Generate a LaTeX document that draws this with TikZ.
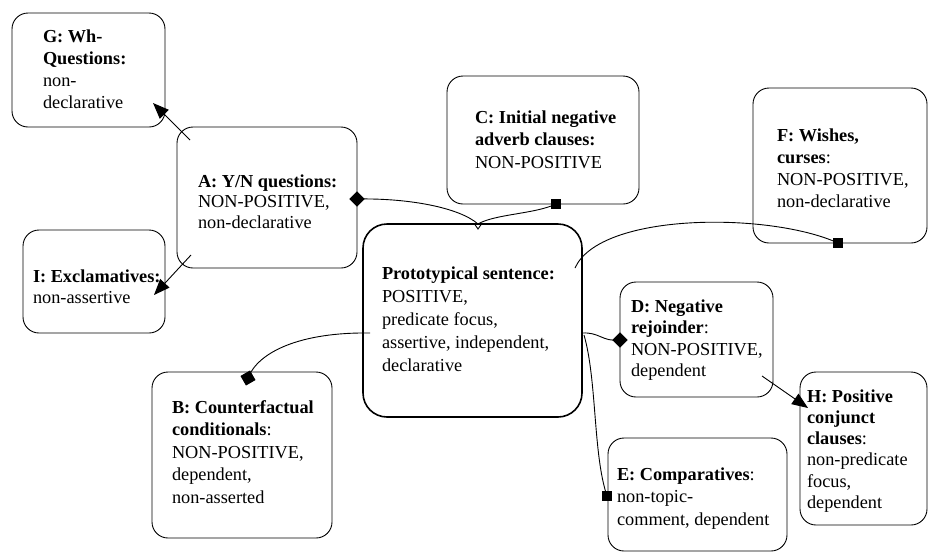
\documentclass[tikz,border=0pt]{standalone}
\usepackage{fontspec}
\setmainfont{Liberation Serif}
\usetikzlibrary{arrows.meta,shapes.geometric}
\newcommand\rw[1]{\hbox{#1}}
\newcommand\blk[2]{\vtop{\fontsize{18.3}{#1}\selectfont #2}}
\begin{document}
\begin{tikzpicture}[x=1pt,y=-1pt,
  box/.style={draw, rounded corners=16pt, inner sep=0pt, outer sep=0pt, line width=0.9pt},
  pbox/.style={box, line width=1.6pt, rounded corners=24pt},
  txt/.style={anchor=base west, inner sep=0pt, outer sep=0pt},
  conn/.style={line width=0.9pt},
  arr/.style={conn, -{Triangle[length=16pt,width=12.5pt]}},
  diam/.style={diamond, fill=black, inner sep=0pt, minimum width=15pt, minimum height=15pt},
  sq/.style={rectangle, fill=black, inner sep=0pt, minimum size=10.5pt}]
\useasboundingbox (0,0) rectangle (928,552);
% boxes
\node[box, minimum width=153pt, minimum height=114pt] (G) at (88.5,70) {};
\node[box, minimum width=180pt, minimum height=141pt] (A) at (267,197.5) {};
\node[box, minimum width=142pt, minimum height=103pt] (I) at (94,281.5) {};
\node[box, minimum width=192pt, minimum height=128pt] (C) at (543,140) {};
\node[pbox, minimum width=219pt, minimum height=193pt] (P) at (472.5,320.5) {};
\node[box, minimum width=174pt, minimum height=155pt] (F) at (840,165.5) {};
\node[box, minimum width=153pt, minimum height=115pt] (D) at (696.5,339.5) {};
\node[box, minimum width=127pt, minimum height=153pt] (H) at (863.5,448.5) {};
\node[box, minimum width=179pt, minimum height=113pt] (E) at (697.5,494.5) {};
\node[box, minimum width=180pt, minimum height=166pt] (B) at (242,455) {};
% texts
\node[txt] (Gt) at (43,42) {\blk{22pt}{\rw{\textbf{G: Wh-}}\rw{\textbf{Questions:}}\rw{non-}\rw{declarative}}};
\node[txt] (At) at (198,187) {\blk{20.5pt}{\rw{\textbf{A: Y/N questions:}}\rw{NON-POSITIVE,}\rw{non-declarative}}};
\node[txt] (It) at (33,282) {\blk{21pt}{\rw{\textbf{I: Exclamatives:}}\rw{non-assertive}}};
\node[txt] (Ct) at (475,123) {\blk{22.5pt}{\rw{\textbf{C: Initial negative}}\rw{\textbf{adverb clauses:}}\rw{NON-POSITIVE}}};
\node[txt] (Pt) at (382,279) {\blk{23pt}{\rw{\textbf{Prototypical sentence:}}\rw{POSITIVE,}\rw{predicate focus,}\rw{assertive, independent,}\rw{declarative}}};
\node[txt] (Ft) at (777,141) {\blk{22pt}{\rw{\textbf{F: Wishes,}}\rw{\textbf{curses}:}\rw{NON-POSITIVE,}\rw{non-declarative}}};
\node[txt] (Dt) at (631,312) {\blk{21.5pt}{\rw{\textbf{D: Negative}}\rw{\textbf{rejoinder}:}\rw{NON-POSITIVE,}\rw{dependent}}};
\node[txt] (Ht) at (807,402) {\blk{21.3pt}{\rw{\textbf{H: Positive}}\rw{\textbf{conjunct}}\rw{\textbf{clauses}:}\rw{non-predicate}\rw{focus,}\rw{dependent}}};
\node[txt] (Et) at (617,480) {\blk{22.5pt}{\rw{\textbf{E: Comparatives}:}\rw{non-topic-}\rw{comment, dependent}}};
\node[txt] (Bt) at (172,413) {\blk{22.5pt}{\rw{\textbf{B: Counterfactual}}\rw{\textbf{conditionals}:}\rw{NON-POSITIVE,}\rw{dependent,}\rw{non-asserted}}};
% end markers
\node[diam] (dA) at (357,199) {};
\node[diam] (dD) at (620,340) {};
\node[sq] (sC) at (556,204) {};
\node[sq] (sF) at (838,243) {};
\node[sq, rotate=30] (sB) at (248,378) {};
\node[sq] (sE) at (607,496) {};
% attachment points
\coordinate (AG) at (190,140);
\coordinate (Gtip) at (153,103);
\coordinate (AI) at (191,255);
\coordinate (Itip) at (154,295);
\coordinate (DH) at (762,376);
\coordinate (Htip) at (808,408);
\coordinate (PT) at (478,224);
\coordinate (PF) at (575,268);
\coordinate (PB) at (370,333);
\coordinate (PD) at (582,333);
\coordinate (PE) at (584,335);
% connectors
\draw[conn] (dA.center) .. controls (410,198) and (460,208) .. (PT);
\draw[conn] (sC.center) .. controls (535,214) and (495,214) .. (PT);
\draw[conn] (PT) ++(-3.5,0) -- ++(3.5,5) -- ++(3.5,-5);
\draw[conn] (PF) .. controls (600,212) and (770,212) .. (sF.center);
\draw[conn] (PB) .. controls (300,332) and (258,352) .. (sB.center);
\draw[conn] (PD) .. controls (600,332) and (602,342) .. (dD.center);
\draw[conn] (PE) .. controls (597,380) and (593,455) .. (sE.center);
\draw[arr] (AG) -- (Gtip);
\draw[arr] (AI) -- (Itip);
\draw[arr] (DH) -- (Htip);
% redraw markers on top
\fill (dA.north) -- (dA.east) -- (dA.south) -- (dA.west) -- cycle;
\fill (dD.north) -- (dD.east) -- (dD.south) -- (dD.west) -- cycle;
\fill (sC.north west) -- (sC.north east) -- (sC.south east) -- (sC.south west) -- cycle;
\fill (sF.north west) -- (sF.north east) -- (sF.south east) -- (sF.south west) -- cycle;
\fill (sB.north west) -- (sB.north east) -- (sB.south east) -- (sB.south west) -- cycle;
\fill (sE.north west) -- (sE.north east) -- (sE.south east) -- (sE.south west) -- cycle;
\end{tikzpicture}
\end{document}
